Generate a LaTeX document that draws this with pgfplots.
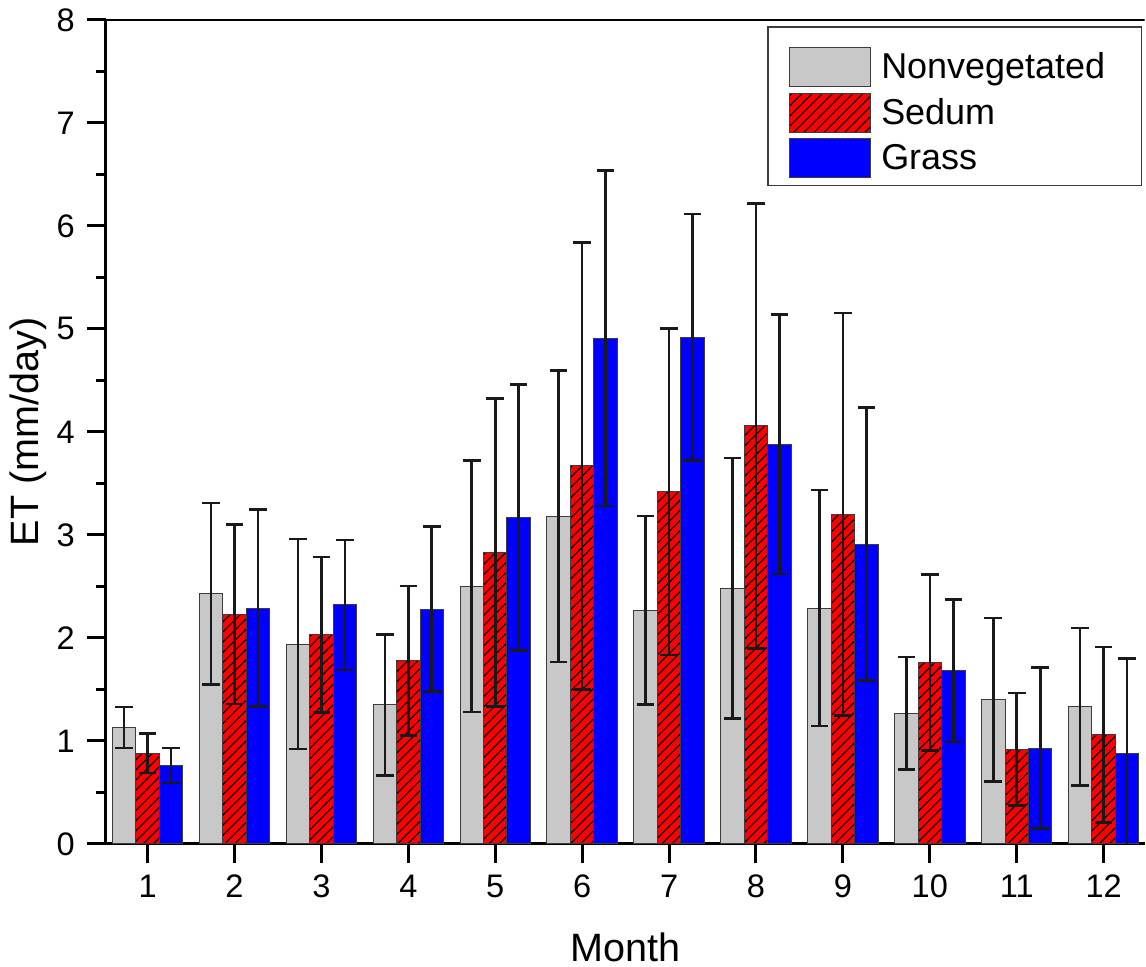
\documentclass[border=0pt]{standalone}
\usepackage{pgfplots}
\pgfplotsset{compat=1.18}
\usepackage{pgfplotstable}
\usepackage{fontspec}
\setmainfont{Liberation Sans}
\usetikzlibrary{patterns.meta}

\definecolor{ngray}{RGB}{200,200,200}
\definecolor{edge}{RGB}{60,60,60}
\definecolor{errc}{RGB}{25,25,25}

% month, mean ET (mm/day), standard deviation
\pgfplotstableread{
m v e
1 1.13 0.200
2 2.43 0.880
3 1.94 1.020
4 1.35 0.685
5 2.50 1.220
6 3.18 1.415
7 2.27 0.915
8 2.48 1.265
9 2.29 1.145
10 1.27 0.545
11 1.40 0.795
12 1.33 0.765
}\nonveg

\pgfplotstableread{
m v e
1 0.88 0.190
2 2.23 0.870
3 2.03 0.755
4 1.78 0.725
5 2.83 1.495
6 3.67 2.170
7 3.42 1.585
8 4.06 2.160
9 3.20 1.955
10 1.76 0.855
11 0.92 0.545
12 1.06 0.850
}\sedum

\pgfplotstableread{
m v e
1 0.76 0.170
2 2.29 0.955
3 2.32 0.630
4 2.28 0.800
5 3.17 1.290
6 4.91 1.630
7 4.92 1.195
8 3.88 1.260
9 2.91 1.325
10 1.68 0.690
11 0.93 0.780
12 0.88 0.920
}\grass

\begin{document}
\begin{tikzpicture}
\begin{axis}[
  scale only axis,
  width=520pt, height=412.5pt,
  xmin=0.52, xmax=12.47, ymin=0, ymax=8,
  axis x line*=bottom, axis y line*=left,
  axis line style={line width=1.5pt, black},
  xtick={1,...,12}, ytick={0,...,8},
  minor y tick num=1,
  tick align=outside,
  major tick length=9.5pt, minor tick length=5pt,
  every tick/.style={black, line width=1.5pt},
  /pgf/number format/assume math mode=true,
  ticklabel style={font=\fontsize{16.3}{19}\selectfont},
  xticklabel style={yshift=-2.5pt},
  yticklabel style={xshift=-2.5pt},
  xlabel={Month}, ylabel={ET (mm/day)},
  label style={font=\fontsize{19.8}{23}\selectfont, overlay},
  xlabel style={at={(axis description cs:0.5,-0.125)}, anchor=center},
  ylabel style={at={(axis description cs:-0.075,0.5)}, anchor=center},
  ybar, bar width=0.27,
  error bars/error bar style={line width=1.3pt, errc},
  error bars/error mark options={rotate=90, mark size=4.4pt, line width=1.3pt, errc},
  legend image code/.code={\draw[#1] (0pt,-9.75pt) rectangle (40.5pt,9.75pt);},
  legend cell align=left,
  legend style={at={(0.6577,0.9673)}, anchor=north west,
    draw=none, fill=none, inner sep=0pt, row sep=2.75pt,
    font=\fontsize{18}{21}\selectfont,
    nodes={inner ysep=0pt, inner xsep=5pt}},
]
\addplot[bar shift=-0.27, fill=ngray, draw=edge, line width=0.5pt,
  error bars/.cd, y dir=both, y explicit]
  table[x=m, y=v, y error=e] {\nonveg};
\addlegendentry{Nonvegetated}
\addplot[bar shift=0, fill=red, draw=edge, line width=0.5pt,
  postaction={pattern={Lines[angle=45, distance=3.6pt, line width=0.6pt]}, pattern color=black},
  error bars/.cd, y dir=both, y explicit]
  table[x=m, y=v, y error=e] {\sedum};
\addlegendentry{Sedum}
\addplot[bar shift=0.27, fill=blue, draw=edge, line width=0.5pt,
  error bars/.cd, y dir=both, y explicit]
  table[x=m, y=v, y error=e] {\grass};
\addlegendentry{Grass}
% frame line along the top edge
\draw[line width=1.5pt, black] (rel axis cs:0,1) -- (rel axis cs:1,1);
% legend frame
\draw[edge, line width=0.6pt] (axis description cs:0.6375,0.9915) rectangle (axis description cs:0.9971,0.7988);
% corners of the page area around the axis
\coordinate (pageSW) at (axis description cs:-0.1019,-0.1491);
\coordinate (pageNE) at (axis description cs:1,1.0242);
\end{axis}
\path[use as bounding box] (pageSW) rectangle (pageNE);
\end{tikzpicture}
\end{document}
